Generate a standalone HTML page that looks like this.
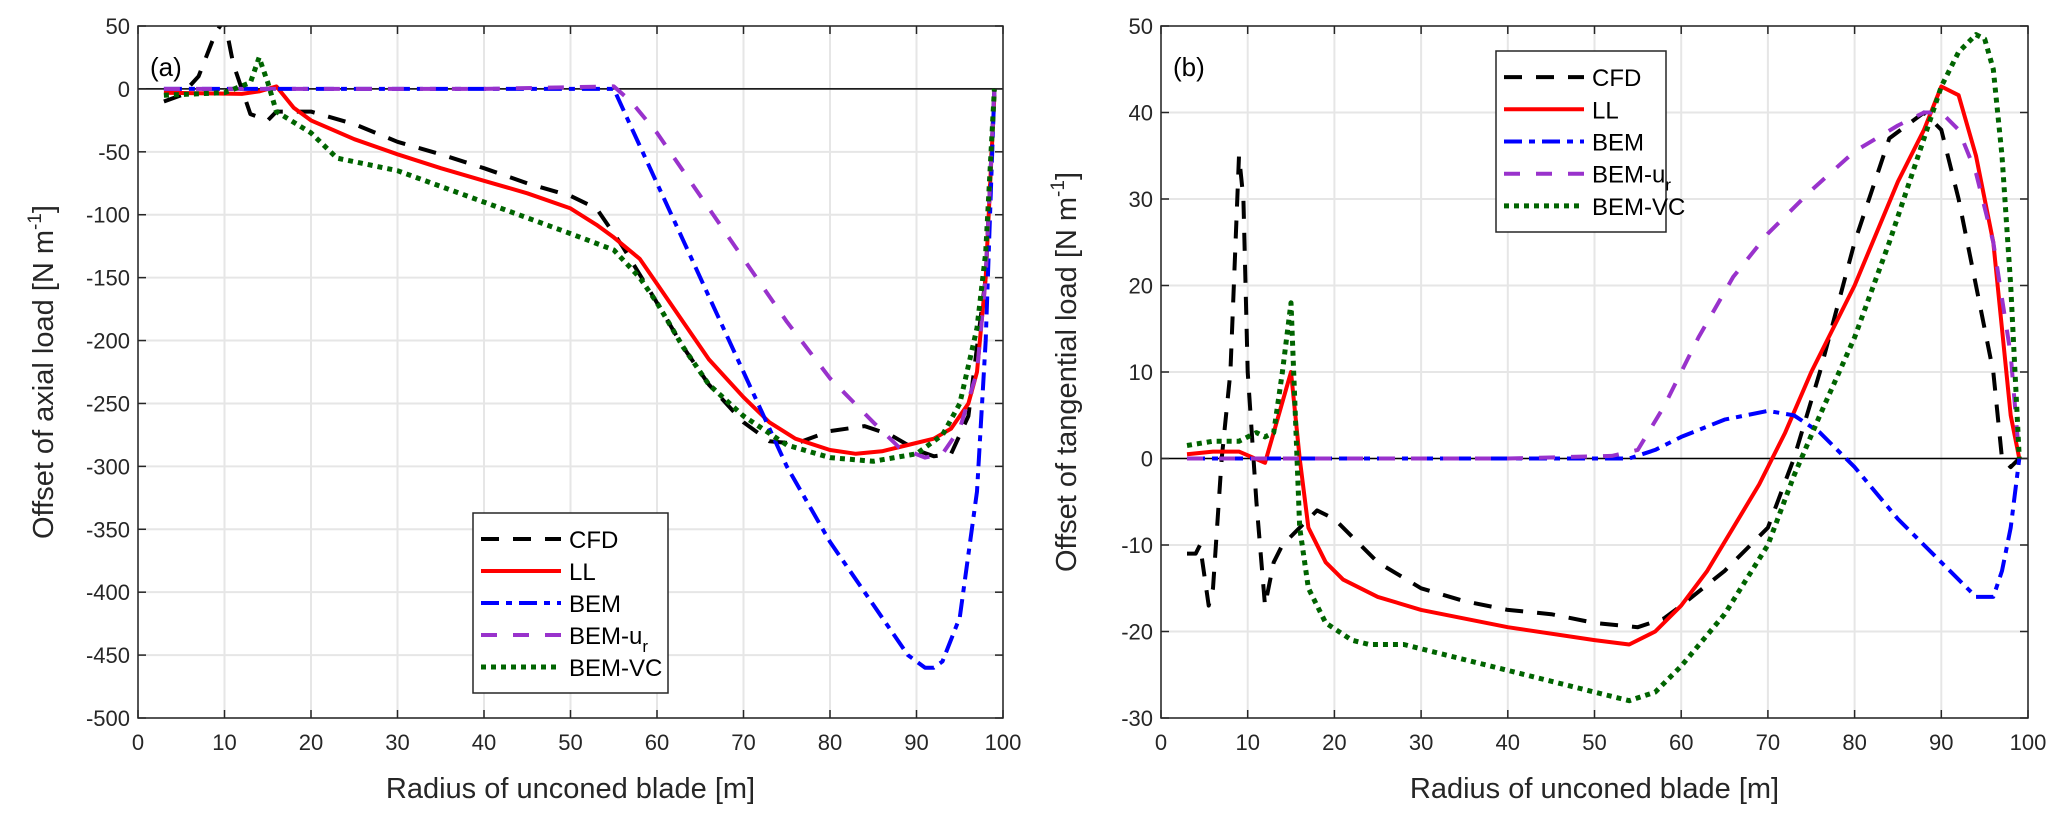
<!DOCTYPE html>
<html><head><meta charset="utf-8"><style>
body{margin:0;background:#fff;}
svg{display:block;font-family:"Liberation Sans",sans-serif;}
</style></head><body>
<svg id="s" width="2067" height="827" viewBox="0 0 2067 827">
<defs>
<clipPath id="ca"><rect x="138" y="26" width="865" height="692"/></clipPath>
<clipPath id="cb"><rect x="1161" y="26" width="867" height="692"/></clipPath>
</defs>
<g id="pa"></g>
<g id="pb"></g>
</svg>
<script>
const NS="http://www.w3.org/2000/svg";
const xTicks=[0,10,20,30,40,50,60,70,80,90,100];
const yTicksA=[50,0,-50,-100,-150,-200,-250,-300,-350,-400,-450,-500];
const yTicksB=[50,40,30,20,10,0,-10,-20,-30];
const seriesNames=["CFD","LL","BEM","BEM-ur","BEM-VC"];
// Panel (a)
const cfdA_r=[3,5,7,9,10,11,12,13,15,16,20,25,30,35,40,45,50,53,56,60,63,66,70,73,76,80,84,87,90,92,94,96,98,99];
const cfdA_v=[-10,-5,10,45,55,20,0,-20,-25,-18,-18,-28,-42,-52,-63,-75,-85,-95,-125,-170,-205,-235,-265,-280,-282,-272,-268,-275,-287,-292,-290,-260,-150,0];
const llA_r=[3,12,14,16,18,20,25,30,35,40,45,50,53,55,58,60,63,66,70,73,76,80,83,86,89,92,94,96,97,98,99];
const llA_v=[-3,-4,-2,2,-15,-25,-40,-52,-63,-73,-83,-95,-108,-118,-135,-155,-185,-215,-245,-265,-278,-287,-290,-288,-283,-278,-270,-250,-225,-150,-5];
const bemA_r=[3,20,40,55,57,60,63,66,70,75,80,85,89,91,92,93,95,97,98,99];
const bemA_v=[0,0,0,0,-30,-75,-120,-165,-225,-300,-360,-410,-450,-460,-460,-455,-420,-320,-200,0];
const urA_r=[3,20,40,55,57,60,65,70,75,80,85,88,91,93,95,97,98,99];
const urA_v=[0,0,0,2,-10,-35,-85,-135,-185,-230,-265,-285,-293,-290,-270,-225,-150,0];
const vcA_r=[3,10,13,14,15,16,20,23,30,40,50,55,58,60,63,66,70,75,80,85,90,93,95,97,98,99];
const vcA_v=[-5,-3,5,25,5,-18,-35,-55,-65,-90,-115,-128,-150,-170,-205,-235,-260,-283,-293,-296,-290,-275,-250,-190,-130,0];
// Panel (b)
const cfdB_r=[3,4,4.5,5.5,6,7,8,9,9.5,10,11,12,13,14,16,18,20,23,25,30,35,40,45,50,55,58,60,65,70,73,76,80,84,88,90,92,94,96,97,98,99];
const cfdB_v=[-11,-11,-10,-17,-15,0,10,35,30,10,-5,-17,-12,-10,-8,-6,-7,-10,-12,-15,-16.5,-17.5,-18,-19,-19.5,-18.5,-17,-13,-8,0,10,25,37,40,38,30,20,10,0,-1,0];
const llB_r=[3,6,9,12,13,15,16,17,19,21,25,30,40,50,54,57,60,63,66,69,72,75,80,85,88,90,92,94,96,97,98,99];
const llB_v=[0.5,0.8,0.8,-0.5,3,10,0,-8,-12,-14,-16,-17.5,-19.5,-21,-21.5,-20,-17,-13,-8,-3,3,10,20,32,38,43,42,35,25,15,5,0];
const bemB_r=[3,20,40,54,57,60,65,70,73,76,80,85,90,94,96,97,98,99];
const bemB_v=[0,0,0,0,1,2.5,4.5,5.5,5,3,-1,-7,-12,-16,-16,-13,-8,0];
const urB_r=[3,20,40,52,55,58,62,66,70,75,80,85,88,90,92,94,96,98,99];
const urB_v=[0,0,0,0.3,1,6,14,21,26,31,35.5,38.5,40,40,38,33,25,12,0];
const vcB_r=[3,6,9,11,12,13,14,15,16,17,19,22,24,28,32,40,50,54,57,60,65,70,73,76,80,84,88,90,92,94,95,96,97,98,99];
const vcB_v=[1.5,2,2,3,2.5,3,10,18,-8,-15,-19,-21,-21.5,-21.5,-22.5,-24.5,-27,-28,-27,-24,-18,-10,-2,5,14,25,37,43,47,49,48.5,45,35,20,0];

const styles=[
 {c:"#000",w:4,d:"18 14"},
 {c:"#f00",w:4,d:""},
 {c:"#00f",w:4,d:"18 7 6 7"},
 {c:"#9932cc",w:4,d:"16 16"},
 {c:"#006400",w:5,d:"5 5"}
];
function el(t,a,p){const e=document.createElementNS(NS,t);for(const k in a)e.setAttribute(k,a[k]);p.appendChild(e);return e;}
function panel(g,L,R,T,B,ymax,ymin,yticks,clip,data,label,ylab,legend){
 const sx=r=>L+(r-0)/100*(R-L);
 const sy=v=>T+(ymax-v)/(ymax-ymin)*(B-T);
 for(const t of xTicks){const x=sx(t);
  const gl=el("line",{x1:x,x2:x,y1:T,y2:B,stroke:"#e6e6e6","stroke-width":2},g);
  }
 for(const t of yticks){const y=sy(t);
  const gl=el("line",{x1:L,x2:R,y1:y,y2:y,stroke:"#e6e6e6","stroke-width":2},g);
  }
 const z=el("line",{x1:L,x2:R,y1:sy(0),y2:sy(0),stroke:"#000","stroke-width":1.5},g);
 
 const lg=el("g",{"clip-path":"url(#"+clip+")"},g);
 data.forEach((d,i)=>{
  const pts=d[0].map((r,j)=>sx(r).toFixed(1)+","+sy(d[1][j]).toFixed(1)).join(" ");
  const s=styles[i];
  const p=el("polyline",{points:pts,fill:"none",stroke:s.c,"stroke-width":s.w,"stroke-dasharray":s.d,"stroke-linejoin":"round"},lg);
  
  
 });
 const fr=el("rect",{x:L,y:T,width:R-L,height:B-T,fill:"none",stroke:"#262626","stroke-width":1.5},g);
 
 for(const t of xTicks){const x=sx(t);
  el("line",{x1:x,x2:x,y1:B,y2:B-8,stroke:"#262626","stroke-width":1.5},g);
  el("line",{x1:x,x2:x,y1:T,y2:T+8,stroke:"#262626","stroke-width":1.5},g);
  const tx=el("text",{x:x,y:B+32,"text-anchor":"middle","font-size":22,fill:"#262626"},g);tx.textContent=t;
  }
 for(const t of yticks){const y=sy(t);
  el("line",{x1:L,x2:L+8,y1:y,y2:y,stroke:"#262626","stroke-width":1.5},g);
  el("line",{x1:R,x2:R-8,y1:y,y2:y,stroke:"#262626","stroke-width":1.5},g);
  const tx=el("text",{x:L-8,y:y+8,"text-anchor":"end","font-size":22,fill:"#262626"},g);tx.textContent=t;
  }
 const pl=el("text",{x:L+12,y:T+50,"font-size":26,fill:"#000"},g);pl.textContent=label;
 
 const xl=el("text",{x:(L+R)/2,y:B+80,"text-anchor":"middle","font-size":29,fill:"#262626"},g);xl.textContent="Radius of unconed blade [m]";
 
 const yl=el("text",{transform:`translate(${L-85},${(T+B)/2}) rotate(-90)`,"text-anchor":"middle","font-size":29,fill:"#262626"},g);
 yl.innerHTML=ylab+' [N m<tspan dy="-12" font-size="19">-1</tspan><tspan dy="12">]</tspan>';
 
 // legend
 const [lx,ly,lw,lh]=legend;
 const lgG=el("g",{},g);
 el("rect",{x:lx,y:ly,width:lw,height:lh,fill:"#fff",stroke:"#262626","stroke-width":1.5},lgG);
 const step=(lh-20)/5;
 seriesNames.forEach((n,i)=>{
  const y=ly+10+step*(i+0.5);const s=styles[i];
  el("line",{x1:lx+8,x2:lx+88,y1:y,y2:y,stroke:s.c,"stroke-width":s.w,"stroke-dasharray":s.d},lgG);
  const t=el("text",{x:lx+96,y:y+9,"font-size":24,fill:"#000"},lgG);
  if(n==="BEM-ur") t.innerHTML='BEM-u<tspan dy="8" font-size="17">r</tspan>'; else t.textContent=n;
  
 });
}
panel(document.getElementById("pa"),138,1003,26,718,50,-500,yTicksA,"ca",
 [[cfdA_r,cfdA_v],[llA_r,llA_v],[bemA_r,bemA_v],[urA_r,urA_v],[vcA_r,vcA_v]],"(a)","Offset of axial load",[473,513,195,180]);
panel(document.getElementById("pb"),1161,2028,26,718,50,-30,yTicksB,"cb",
 [[cfdB_r,cfdB_v],[llB_r,llB_v],[bemB_r,bemB_v],[urB_r,urB_v],[vcB_r,vcB_v]],"(b)","Offset of tangential load",[1496,51,170,181]);
</script>
</body></html>
